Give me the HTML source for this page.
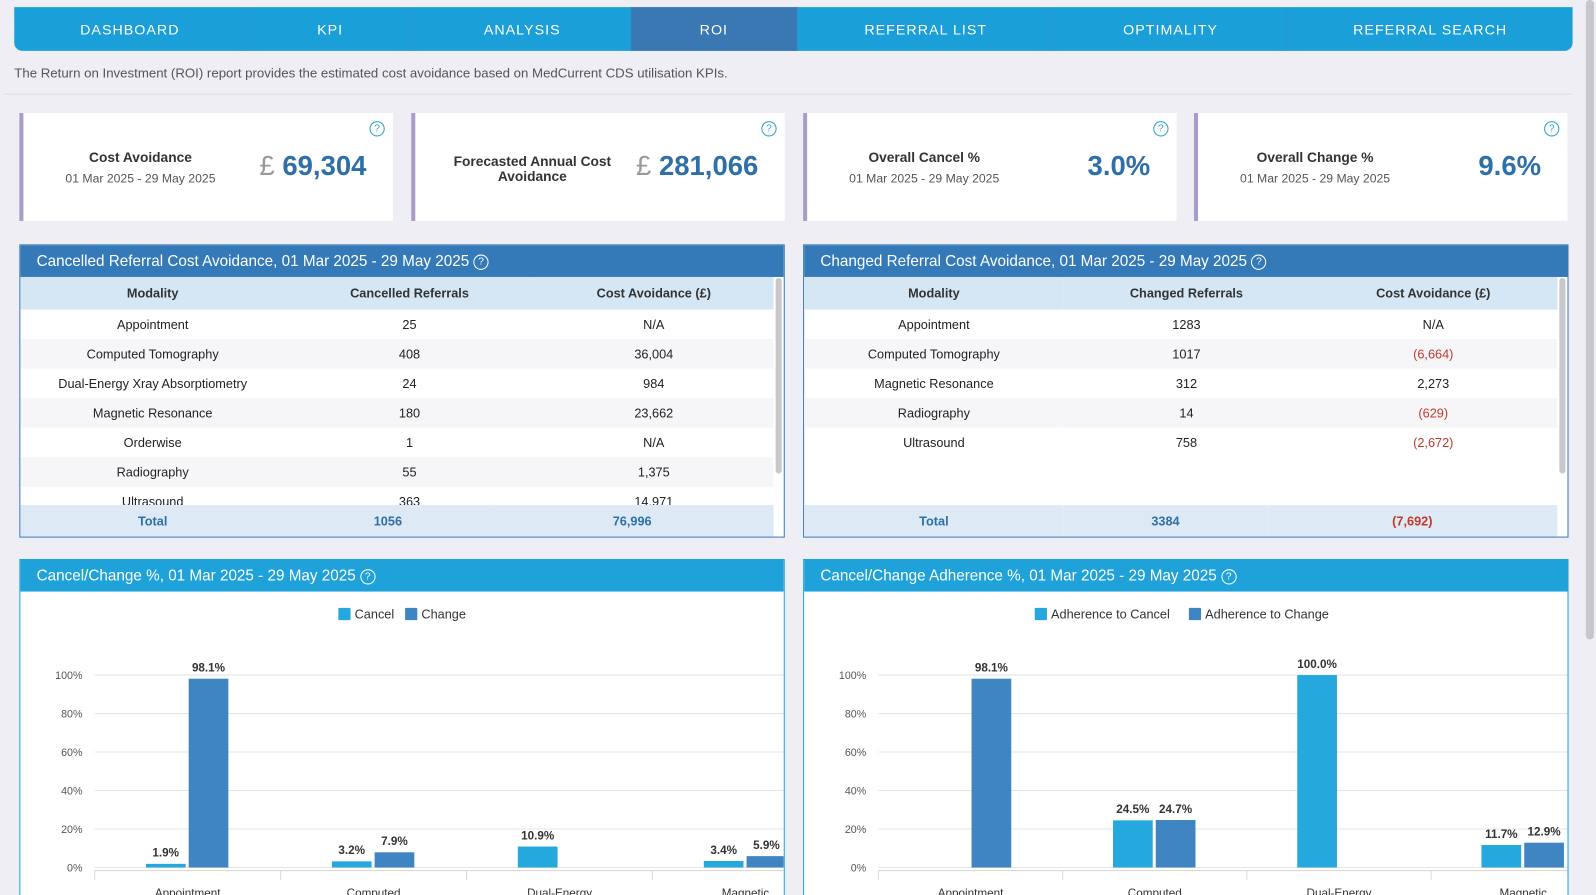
<!DOCTYPE html>
<html><head><meta charset="utf-8">
<style>
html,body{margin:0;padding:0;width:1596px;height:895px;overflow:hidden;background:#efeef4;font-family:"Liberation Sans",sans-serif;}
#wrap{position:absolute;left:0;top:0;width:1568px;height:879px;transform:scale(1.01786,1.0182);transform-origin:0 0;background:#efeef4;overflow:hidden;}
.abs{position:absolute;}
#nav{left:14px;top:7px;width:1531px;height:43px;background:#1b9fd8;border-radius:0 0 8px 8px;display:flex;overflow:hidden;}
#nav div{color:#fff;font-size:14px;letter-spacing:1px;display:flex;align-items:center;justify-content:center;border-right:1px solid #2a95cf;}
#desc{left:14px;top:64px;font-size:13px;color:#555;}
#hr{left:4px;top:92px;width:1540px;height:1px;background:#dcdce2;}
.card{background:#fff;border-left:4px solid #a99ccb;height:106px;top:111px;width:363px;}
.card .lab{position:absolute;left:20px;width:190px;text-align:center;font-size:13px;color:#333;}
.card .lab b{font-weight:bold;font-size:13.5px;}
.card .lab span{display:block;font-size:12px;color:#555;margin-top:6px;}
.card .val{position:absolute;right:26px;top:37px;font-size:27px;font-weight:bold;color:#2f6fa8;}
.card .val i{font-style:normal;color:#999;font-weight:normal;}
.q{position:absolute;width:13px;height:13px;border:1.3px solid #2aa1c8;border-radius:50%;font-size:10px;color:#2aa1c8;text-align:center;line-height:13px;}
.panel{background:#fff;border:1px solid #3479b8;}
.ph{height:31px;color:#fff;font-size:15px;line-height:31px;padding-left:16px;}
table{border-collapse:collapse;width:740px;font-size:12.5px;color:#222;}
th{background:#d5e6f5;height:32px;padding:0;font-weight:bold;font-size:12.5px;color:#333;}
td{height:29px;padding:0;text-align:center;}
tr:nth-child(odd) td{background:#f6f6f8;}
.tot td{background:#dde9f4 !important;color:#2f6fa8;font-weight:bold;height:31px;}
.red{color:#c0392b;}
.sb{position:absolute;right:2px;width:6px;background:#c8c8cc;border-radius:3px;}
</style></head><body><div id="wrap">
<div id="nav" class="abs">
<div style="width:228px">DASHBOARD</div>
<div style="width:165px">KPI</div>
<div style="width:212px">ANALYSIS</div>
<div style="width:164px;background:#3a78b4">ROI</div>
<div style="width:252px">REFERRAL LIST</div>
<div style="width:229px">OPTIMALITY</div>
<div style="width:281px;border:none">REFERRAL SEARCH</div>
</div>
<div id="desc" class="abs">The Return on Investment (ROI) report provides the estimated cost avoidance based on MedCurrent CDS utilisation KPIs.</div>
<div id="hr" class="abs"></div>

<div class="card abs" style="left:19px"><div class="q" style="right:8px;top:8px">?</div>
<div class="lab" style="top:36px"><b>Cost Avoidance</b><span>01 Mar 2025 - 29 May 2025</span></div><div class="val"><i>£</i> 69,304</div></div>
<div class="card abs" style="left:404px"><div class="q" style="right:8px;top:8px">?</div>
<div class="lab" style="top:40px"><b>Forecasted Annual Cost Avoidance</b></div><div class="val"><i>£</i> 281,066</div></div>
<div class="card abs" style="left:789px"><div class="q" style="right:8px;top:8px">?</div>
<div class="lab" style="top:36px"><b>Overall Cancel %</b><span>01 Mar 2025 - 29 May 2025</span></div><div class="val">3.0%</div></div>
<div class="card abs" style="left:1173px"><div class="q" style="right:8px;top:8px">?</div>
<div class="lab" style="top:36px"><b>Overall Change %</b><span>01 Mar 2025 - 29 May 2025</span></div><div class="val">9.6%</div></div>

<div class="panel abs" style="left:19px;top:240px;width:750px;height:286px;overflow:hidden">
<div class="ph" style="background:#3479b8">Cancelled Referral Cost Avoidance, 01 Mar 2025 - 29 May 2025 <span class="q" style="position:relative;display:inline-block;border-color:#fff;color:#fff;top:-1px">?</span></div>
<div style="height:224px;overflow:hidden"><table>
<tr><th style="width:260px">Modality</th><th>Cancelled Referrals</th><th>Cost Avoidance (£)</th></tr>
<tr><td>Appointment</td><td>25</td><td>N/A</td></tr>
<tr><td>Computed Tomography</td><td>408</td><td>36,004</td></tr>
<tr><td>Dual-Energy Xray Absorptiometry</td><td>24</td><td>984</td></tr>
<tr><td>Magnetic Resonance</td><td>180</td><td>23,662</td></tr>
<tr><td>Orderwise</td><td>1</td><td>N/A</td></tr>
<tr><td>Radiography</td><td>55</td><td>1,375</td></tr>
<tr><td>Ultrasound</td><td>363</td><td>14,971</td></tr>
</table></div>
<table><tr class="tot"><td style="width:260px">Total</td><td>1056</td><td>76,996</td></tr></table>
<div class="sb" style="top:32px;height:192px"></div>
</div>

<div class="panel abs" style="left:789px;top:240px;width:750px;height:286px;overflow:hidden">
<div class="ph" style="background:#3479b8">Changed Referral Cost Avoidance, 01 Mar 2025 - 29 May 2025 <span class="q" style="position:relative;display:inline-block;border-color:#fff;color:#fff;top:-1px">?</span></div>
<div style="height:224px;overflow:hidden"><table>
<tr><th style="width:255px">Modality</th><th>Changed Referrals</th><th>Cost Avoidance (£)</th></tr>
<tr><td>Appointment</td><td>1283</td><td>N/A</td></tr>
<tr><td>Computed Tomography</td><td>1017</td><td class="red">(6,664)</td></tr>
<tr><td>Magnetic Resonance</td><td>312</td><td>2,273</td></tr>
<tr><td>Radiography</td><td>14</td><td class="red">(629)</td></tr>
<tr><td>Ultrasound</td><td>758</td><td class="red">(2,672)</td></tr>
</table></div>
<table><tr class="tot"><td style="width:255px">Total</td><td>3384</td><td class="red" style="color:#c0392b">(7,692)</td></tr></table>
<div class="sb" style="top:32px;height:192px"></div>
</div>

<div class="panel abs" style="left:19px;top:549px;width:750px;height:350px;border-color:#1ea2d9;overflow:hidden">
<div class="ph" style="background:#1ea2d9">Cancel/Change %, 01 Mar 2025 - 29 May 2025 <span class="q" style="position:relative;display:inline-block;border-color:#fff;color:#fff;top:-1px">?</span></div>
<svg id="c1" width="750" height="310" style="position:absolute;left:0;top:31px"></svg>
</div>
<div class="panel abs" style="left:789px;top:549px;width:750px;height:350px;border-color:#1ea2d9;overflow:hidden">
<div class="ph" style="background:#1ea2d9">Cancel/Change Adherence %, 01 Mar 2025 - 29 May 2025 <span class="q" style="position:relative;display:inline-block;border-color:#fff;color:#fff;top:-1px">?</span></div>
<svg id="c2" width="750" height="310" style="position:absolute;left:0;top:31px"></svg>
</div>
<div class="abs" style="left:1558px;top:0;width:8px;height:628px;background:#c8c8cc;border-radius:4px"></div>
</div>
<script>
const categories=["Appointment","Computed","Dual-Energy","Magnetic"];
const yTicks=[0,20,40,60,80,100];
const cancelValues=[1.9,3.2,10.9,3.4];
const changeValues=[98.1,7.9,null,5.9];
const adhCancelValues=[null,24.5,100.0,11.7];
const adhChangeValues=[98.1,24.7,null,12.9];
const NS="http://www.w3.org/2000/svg";
function mk(svg,t,a,txt){const e=document.createElementNS(NS,t);for(const k in a)e.setAttribute(k,a[k]);if(txt!=null)e.textContent=txt;svg.appendChild(e);return e;}
function draw(id,x0,catW,s1,s2,names){
 const svg=document.getElementById(id);
 const top=82,bot=271;
 const y=v=>bot-(v/100)*(bot-top);
 const xc=i=>x0+catW*(i+0.5);
 const w1=names[0].length*6.6+26;
 const totalW=w1+names[1].length*6.6+20;
 let sx=375-totalW/2;
 let r1=mk(svg,'rect',{x:sx,y:16,width:12,height:12,fill:'#25a8dd',rx:1});
 
 
 mk(svg,'text',{x:sx+16,y:26.5,'font-size':12.5,fill:'#333'},names[0]);
 sx+=w1;
 let r2=mk(svg,'rect',{x:sx,y:16,width:12,height:12,fill:'#3f85c2',rx:1});
 
 
 mk(svg,'text',{x:sx+16,y:26.5,'font-size':12.5,fill:'#333'},names[1]);
 yTicks.forEach(t=>{
  mk(svg,'line',{x1:x0,x2:750,y1:y(t),y2:y(t),stroke:'#e4e4e4'});
  const tl=mk(svg,'text',{x:x0-12,y:y(t)+4,'font-size':10.5,fill:'#555','text-anchor':'end'},t+'%');
  
  
 });
 mk(svg,'line',{x1:x0,x2:750,y1:bot+3,y2:bot+3,stroke:'#d8d8d8'});
 categories.forEach((c,i)=>{
  mk(svg,'line',{x1:x0+catW*i,x2:x0+catW*i,y1:bot+3,y2:bot+12,stroke:'#d8d8d8'});
  const cl=mk(svg,'text',{x:xc(i),y:bot+29,'font-size':11.5,fill:'#333','text-anchor':'middle'},c);
  
  
  [[s1,'#25a8dd',-41],[s2,'#3f85c2',1]].forEach(([s,col,off])=>{
   const v=s[i];if(v==null)return;
   const b=mk(svg,'rect',{x:xc(i)+off,y:y(v),width:39,height:bot-y(v),fill:col});
   
   
   mk(svg,'text',{x:xc(i)+off+19.5,y:y(v)-7,'font-size':11.5,'font-weight':'bold',fill:'#333','text-anchor':'middle'},v.toFixed(1)+'%');
  });
 });
}
draw('c1',73,182.7,cancelValues,changeValues,['Cancel','Change']);
draw('c2',73,181,adhCancelValues,adhChangeValues,['Adherence to Cancel','Adherence to Change']);
</script>
</body></html>
